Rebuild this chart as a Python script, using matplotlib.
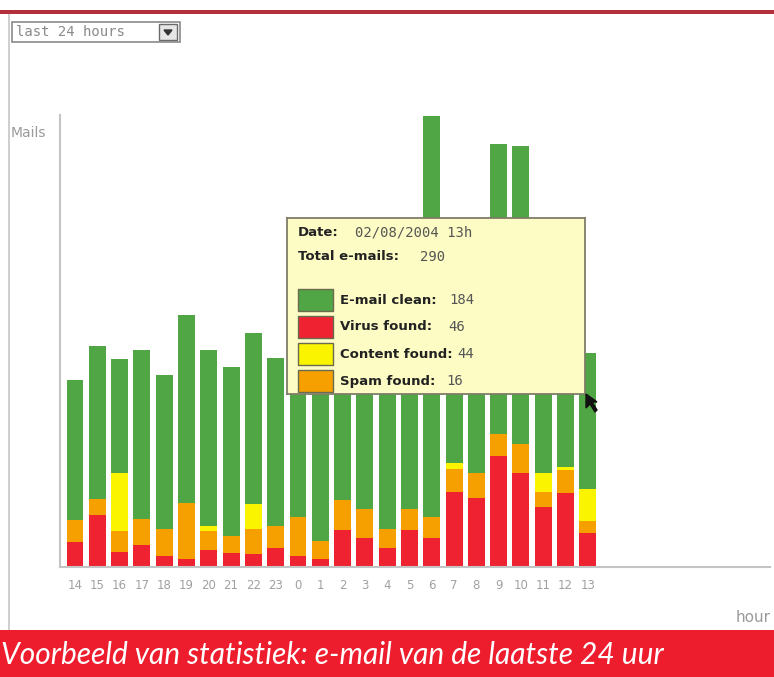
import matplotlib
matplotlib.use("Agg")
import matplotlib.pyplot as plt
from matplotlib.patches import Rectangle, Polygon

# hourly mail counts, last 24 hours (hour 14 .. hour 13)
hours = ["14", "15", "16", "17", "18", "19", "20", "21", "22", "23", "0", "1",
         "2", "3", "4", "5", "6", "7", "8", "9", "10", "11", "12", "13"]
virus = [34, 70, 20, 29, 15, 10, 23, 19, 17, 25, 15, 11,
         50, 39, 25, 50, 39, 101, 94, 150, 128, 81, 100, 46]
spam = [30, 22, 28, 36, 36, 76, 25, 23, 34, 31, 52, 24,
        40, 39, 26, 28, 28, 32, 34, 30, 39, 21, 31, 16]
content = [0, 0, 80, 0, 0, 0, 7, 0, 34, 0, 0, 0,
           0, 0, 0, 0, 0, 8, 0, 0, 0, 25, 5, 44]
clean = [190, 208, 154, 230, 209, 256, 240, 230, 232, 228, 253, 265,
         240, 232, 269, 262, 545, 239, 232, 394, 405, 233, 204, 184]

tooltip_date = "02/08/2004 13h"

GREEN = "#50a545"
RED = "#ee2230"
YELLOW = "#fbf400"
ORANGE = "#f6a000"
GREY = "#9a9a9a"

W, H = 774, 677
fig = plt.figure(figsize=(W / 100, H / 100), dpi=100)
fig.patch.set_facecolor("white")


def fx(px):
    return px / W


def fy(py):
    return 1 - py / H


# main plot area
ax = fig.add_axes([fx(60), fy(566.7), fx(770) - fx(60), fy(115) - fy(566.7)])
x = list(range(len(hours)))
bottom = [0] * len(hours)
for vals, col in [(virus, RED), (spam, ORANGE), (content, YELLOW), (clean, GREEN)]:
    ax.bar(x, vals, bottom=bottom, width=0.76, color=col, linewidth=0)
    bottom = [b + v for b, v in zip(bottom, vals)]

ax.set_xlim(-0.673, 31.17)
ax.set_ylim(0, 614)
ax.set_xticks(x)
ax.set_xticklabels(hours)
ax.set_yticks([])
ax.tick_params(axis="x", length=0, pad=9, labelsize=8.5, labelcolor="#a0a0a0")
for s in ["top", "right"]:
    ax.spines[s].set_visible(False)
for s in ["left", "bottom"]:
    ax.spines[s].set_color("#c4c4c4")
    ax.spines[s].set_linewidth(1.5)

fig.text(fx(11), fy(133), "Mails", color=GREY, fontsize=10, va="center")
fig.text(fx(771), fy(617), "hour", color=GREY, fontsize=11, va="center", ha="right")

# frame decorations
fig.add_artist(Rectangle((0, fy(14)), 1, fy(10) - fy(14), transform=fig.transFigure,
                         color="#b2303e", lw=0))
fig.add_artist(Rectangle((fx(7.5), fy(630)), fx(2), fy(14) - fy(630),
                         transform=fig.transFigure, color="#cfcfcf", lw=0))

# dropdown
fig.add_artist(Rectangle((fx(12), fy(42)), fx(180) - fx(12), fy(22) - fy(42),
                         transform=fig.transFigure, facecolor="white",
                         edgecolor="#8a8a8a", lw=1.2))
fig.add_artist(Rectangle((fx(159), fy(40)), fx(18), fy(24) - fy(40),
                         transform=fig.transFigure, facecolor="#e6e6e6",
                         edgecolor="#6a6a6a", lw=1))
fig.add_artist(Polygon([(fx(164), fy(30)), (fx(172), fy(30)), (fx(168), fy(35))],
                       closed=True, transform=fig.transFigure, color="#333333"))
fig.text(fx(16), fy(32), "last 24 hours", color="#8a8a8a", fontsize=10,
         family="DejaVu Sans Mono", va="center")

# bottom caption band
fig.add_artist(Rectangle((0, 0), 1, fy(630), transform=fig.transFigure,
                         color="#ee1d2e", lw=0))
fig.text(fx(1), fy(655), "Voorbeeld van statistiek: e-mail van de laatste 24 uur",
         color="white", fontsize=21.5, style="italic", family="Lato", va="center")

# tooltip
tt = fig.add_axes([fx(287), fy(394), fx(585) - fx(287), fy(218) - fy(394)], zorder=5)
tt.set_xlim(287, 585)
tt.set_ylim(394, 218)
tt.set_facecolor("#fdfcc4")
tt.set_xticks([])
tt.set_yticks([])
for s in tt.spines.values():
    s.set_color("#7f7d68")
    s.set_linewidth(1.3)

bold = dict(fontsize=9.5, fontweight="bold", color="#222222", va="center")
mono = dict(fontsize=10, family="DejaVu Sans Mono", color="#555555", va="center")
tt.text(298, 233, "Date:", **bold)
tt.text(355, 233, tooltip_date, **mono)
tt.text(298, 257, "Total e-mails:", **bold)
total = virus[-1] + spam[-1] + content[-1] + clean[-1]
tt.text(420, 257, str(total), **mono)

rows = [("E-mail clean:", clean[-1], GREEN, 300, 449),
        ("Virus found:", virus[-1], RED, 327, 448),
        ("Content found:", content[-1], YELLOW, 354, 457),
        ("Spam found:", spam[-1], ORANGE, 381, 446)]
for label, val, col, yc, vx in rows:
    tt.add_patch(Rectangle((298, yc - 11), 35, 22, facecolor=col,
                           edgecolor="#6a6a50", lw=1))
    tt.text(340, yc, label, **bold)
    tt.text(vx, yc, str(val), **mono)

# mouse cursor
fig.add_artist(Polygon([(fx(586), fy(394)), (fx(586), fy(408)), (fx(590), fy(404)),
                        (fx(595), fy(412)), (fx(597), fy(410)), (fx(592), fy(402)),
                        (fx(597), fy(402))], closed=True, transform=fig.transFigure,
                       color="#111111", zorder=6))

fig.savefig("out.png", dpi=100)
